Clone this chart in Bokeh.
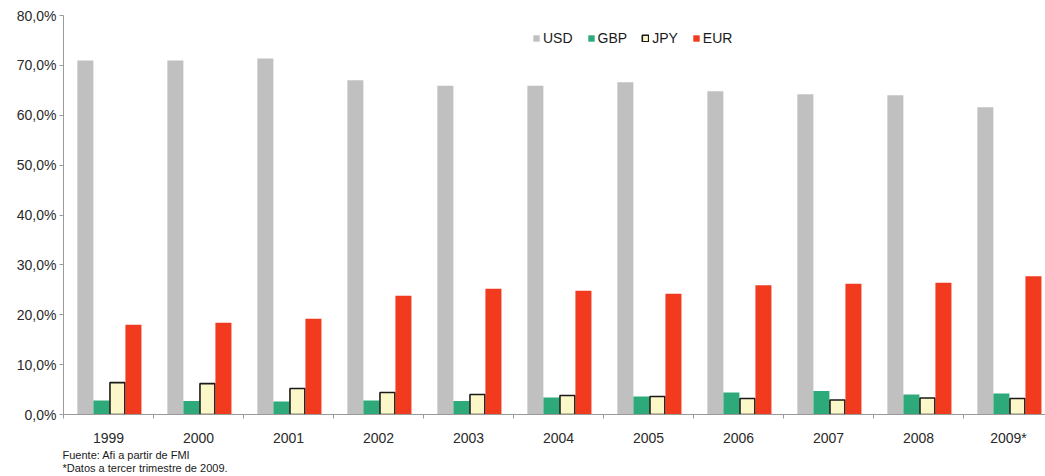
from bokeh.plotting import figure
from bokeh.models import ColumnDataSource, FixedTicker, Legend, LegendItem, Title, Range1d
from bokeh.transform import dodge
from bokeh.embed import file_html
from bokeh.resources import INLINE

years = ["1999", "2000", "2001", "2002", "2003", "2004", "2005", "2006", "2007", "2008", "2009*"]
usd = [71.0, 71.0, 71.4, 67.0, 65.9, 65.9, 66.6, 64.8, 64.2, 64.0, 61.6]
gbp = [2.8, 2.7, 2.6, 2.8, 2.7, 3.4, 3.6, 4.4, 4.7, 4.0, 4.2]
jpy = [6.4, 6.2, 5.2, 4.4, 4.0, 3.8, 3.6, 3.2, 2.9, 3.3, 3.2]
eur = [18.0, 18.4, 19.2, 23.8, 25.2, 24.8, 24.2, 25.9, 26.2, 26.4, 27.7]
y_ticks = [0, 10, 20, 30, 40, 50, 60, 70, 80]
y_labels = ["0,0%", "10,0%", "20,0%", "30,0%", "40,0%", "50,0%", "60,0%", "70,0%", "80,0%"]
notes = ["Fuente: Afi a partir de FMI", "*Datos a tercer trimestre de 2009."]

FONT = "Liberation Sans"
centers = [i + 0.5 for i in range(len(years))]
src = ColumnDataSource(dict(x=centers, usd=usd, gbp=gbp, jpy=jpy, eur=eur))

p = figure(width=1045, height=476, output_backend="svg", toolbar_location=None,
           x_range=Range1d(0, 10.911), y_range=Range1d(0, 80))
p.min_border_left = 63
p.min_border_top = 15
p.min_border_bottom = 62
p.min_border_right = 0
p.outline_line_color = None
p.xgrid.visible = False
p.ygrid.visible = False
p.background_fill_color = "white"
p.border_fill_color = "white"

w = 0.178
r_usd = p.vbar(x=dodge("x", -1.5 * w + 0.01, range=p.x_range), top="usd", width=w, source=src,
               fill_color="#c0c0c0", line_color=None)
r_gbp = p.vbar(x=dodge("x", -0.5 * w + 0.01, range=p.x_range), top="gbp", width=w, source=src,
               fill_color="#2eaa7a", line_color=None)
r_jpy = p.vbar(x=dodge("x", 0.5 * w + 0.01, range=p.x_range), top="jpy", width=w * 0.93, source=src,
               fill_color="#fbf7c8", line_color="#1a1a1a", line_width=1.6)
r_eur = p.vbar(x=dodge("x", 1.5 * w + 0.01, range=p.x_range), top="eur", width=w, source=src,
               fill_color="#f23a1f", line_color=None)

# axes
p.yaxis.ticker = FixedTicker(ticks=y_ticks)
p.yaxis.major_label_overrides = {t: l for t, l in zip(y_ticks, y_labels)}
p.yaxis.axis_line_color = "#9a9a9a"
p.yaxis.major_tick_line_color = "#9a9a9a"
p.yaxis.major_tick_out = 4
p.yaxis.major_tick_in = 0
p.yaxis.minor_tick_line_color = None
p.yaxis.major_label_standoff = 3
p.yaxis.major_label_text_font = FONT
p.yaxis.major_label_text_font_size = "14px"
p.yaxis.major_label_text_color = "#2a2a2a"

p.xaxis.ticker = FixedTicker(ticks=centers, minor_ticks=list(range(0, 12)))
p.xaxis.major_label_overrides = {c: y for c, y in zip(centers, years)}
p.xaxis.axis_line_color = "#9a9a9a"
p.xaxis.major_tick_line_color = None
p.xaxis.major_tick_out = 0
p.xaxis.major_tick_in = 0
p.xaxis.minor_tick_line_color = "#9a9a9a"
p.xaxis.minor_tick_out = 4
p.xaxis.minor_tick_in = 0
p.xaxis.major_label_standoff = 11
p.xaxis.major_label_text_font = FONT
p.xaxis.major_label_text_font_size = "14px"
p.xaxis.major_label_text_color = "#2a2a2a"

# legend
legend = Legend(items=[LegendItem(label="USD", renderers=[r_usd]),
                       LegendItem(label="GBP", renderers=[r_gbp]),
                       LegendItem(label="JPY", renderers=[r_jpy]),
                       LegendItem(label="EUR", renderers=[r_eur])],
                orientation="horizontal", location=(469, 368),
                glyph_width=8, glyph_height=8, label_standoff=3, spacing=14,
                padding=0, margin=0, border_line_color=None, background_fill_alpha=0,
                label_text_font=FONT, label_text_font_size="14px", label_text_color="#1a1a1a",
                label_height=12)
p.add_layout(legend, "center")

# footnotes
for note, so in zip(notes, [-3, 0]):
    p.add_layout(Title(text=note, text_font=FONT, text_font_size="11px", text_font_style="normal",
                       text_color="#1a1a1a", align="left", standoff=so, offset=-1), "below")

open("out.html", "w").write(file_html(p, INLINE))
